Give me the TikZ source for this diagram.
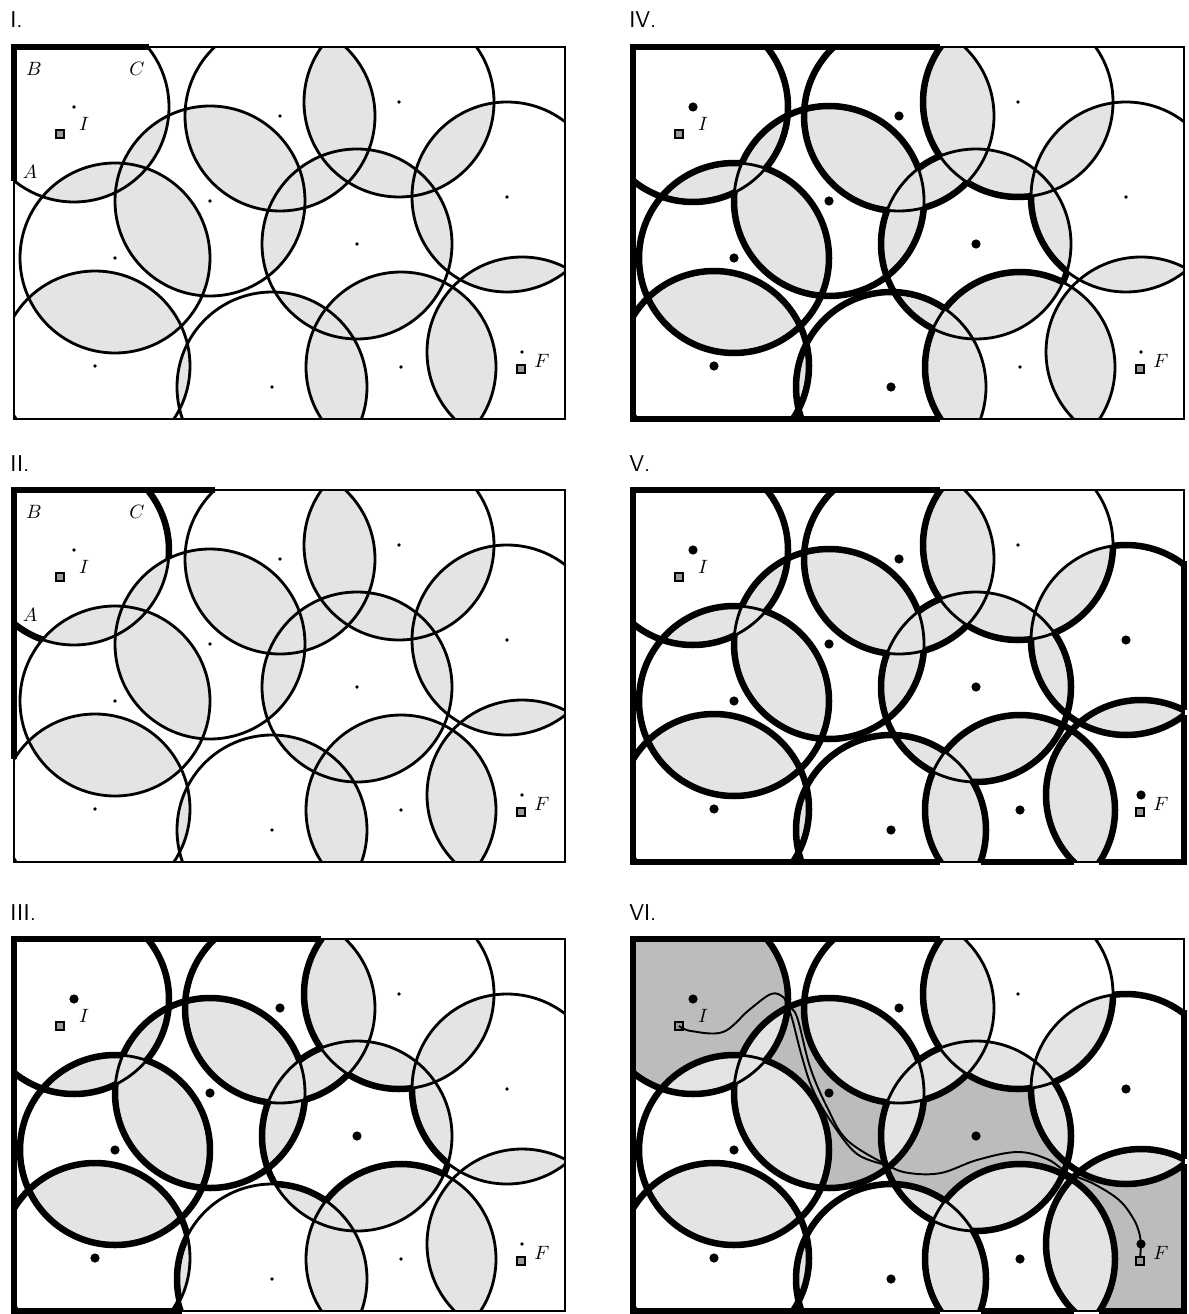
\documentclass[tikz,border=0pt]{standalone}
\usepackage{tikz}
\usetikzlibrary{calc}

\definecolor{LensGray}{HTML}{E4E4E4}
\definecolor{RouteGray}{HTML}{BCBCBC}
\definecolor{MarkGray}{HTML}{9A9A9A}

\tikzset{
  rim/.style={line width=1.6pt},
  traced/.style={line width=3.7pt},
  route/.style={line width=1.1pt},
  panelname/.style={font=\sffamily\fontsize{13}{15}\selectfont,anchor=base west,inner sep=0pt},
  ptlabel/.style={font=\fontsize{10.5}{12}\selectfont,inner sep=0pt},
  endmark/.style={draw=black,line width=0.7pt,fill=MarkGray,minimum size=4.6pt,inner sep=0pt},
}

\newcommand{\sensorrad}{95}

% sensor centres of one panel
\newcommand{\placesensors}{%
  \foreach \n/\x/\y in {1/74/107,2/280/116,3/399/102,4/210/201,5/507/197,
      6/115/258,7/357/244,8/95/366,9/272/387,10/401/367,11/522/352}
    \coordinate (s\n) at (\x,\y);}

% clip away the inside of one sensor disc
\newcommand{\clipout}[1]{%
  \clip (-60,-60) -- (660,-60) -- (660,500) -- (-60,500) -- cycle
    (#1) ++(\sensorrad,0) arc[start angle=0,end angle=-360,radius=\sensorrad] -- cycle;}

% double covered lenses and thin discs
\newcommand{\field}{%
  \foreach \i in {1,...,11}{
    \begin{scope}
      \clip (s\i) circle[radius=\sensorrad];
      \foreach \j in {1,...,11}{\ifnum\i=\j\relax\else\fill[LensGray] (s\j) circle[radius=\sensorrad];\fi}
    \end{scope}}
  \foreach \n in {1,...,11} \draw[rim] (s\n) circle[radius=\sensorrad];}

% thick boundary of the single covered cells of the listed sensors
\newcommand{\tracecells}[1]{%
  \foreach \i in {#1}{
    \foreach \j in {1,...,11}{
      \begin{scope}
        \ifnum\i=\j\relax\else\clip (s\i) circle[radius=\sensorrad];\fi
        \foreach \k in {1,...,11}{%
          \ifnum\k=\i\relax\else\ifnum\k=\j\relax\else\clipout{s\k}\fi\fi}
        \draw[traced] (s\j) circle[radius=\sensorrad];
      \end{scope}}}}

\newcommand{\sensordots}{%
  \foreach \n in {1,...,11} \fill (s\n) circle[radius=1.9];}

\begin{document}
\begin{tikzpicture}[x=0.2mm,y=-0.2mm]
  \useasboundingbox (0,0) rectangle (1188,1314);

  % I.
  \begin{scope}
    \placesensors
    \node[panelname] (t1) at (10,28) {I.};
    \begin{scope}
      \clip (14,47) rectangle (565,419);
      \field
    \end{scope}
    \draw[rim] (14,47) rectangle (565,419);
    \draw[traced] (149,47) -- (14,47) -- (14,181);
    \sensordots
    \node[endmark] (i1) at (60,134) {};
    \node[endmark] (f1) at (521,369) {};
    \node[ptlabel] (b1) at (34,69) {$B$};
    \node[ptlabel] (c1) at (137,69) {$C$};
    \node[ptlabel] (a1) at (30,172) {$A$};
    \node[ptlabel] (li1) at (84,124) {$I$};
    \node[ptlabel] (lf1) at (542,361) {$F$};
  \end{scope}

  % II.
  \begin{scope}[shift={(0,443)}]
    \placesensors
    \node[panelname] (t2) at (10,28) {II.};
    \begin{scope}
      \clip (14,47) rectangle (565,419);
      \field
      \draw[traced] (s1) ++(-38.7:95) arc[start angle=-38.7,end angle=5.1,radius=95];
      \draw[traced] (s1) ++(109.4:95) arc[start angle=109.4,end angle=129,radius=95];
    \end{scope}
    \draw[rim] (14,47) rectangle (565,419);
    \draw[traced] (215,47) -- (14,47) -- (14,316);
    \sensordots
    \node[endmark] (i2) at (60,134) {};
    \node[endmark] (f2) at (521,369) {};
    \node[ptlabel] (b2) at (34,69) {$B$};
    \node[ptlabel] (c2) at (137,69) {$C$};
    \node[ptlabel] (a2) at (30,172) {$A$};
    \node[ptlabel] (li2) at (84,124) {$I$};
    \node[ptlabel] (lf2) at (542,361) {$F$};
  \end{scope}

  % III.
  \begin{scope}[shift={(0,892)}]
    \placesensors
    \node[panelname] (t3) at (10,28) {III.};
    \begin{scope}
      \clip (14,47) rectangle (565,419);
      \field
      \tracecells{1,2,4,6,7,8}
    \end{scope}
    \draw[rim] (14,47) rectangle (565,419);
    \draw[traced] (321,47) -- (14,47) -- (14,419) -- (182,419);
    \sensordots
    \foreach \n in {1,2,4,6,7,8} \fill (s\n) circle[radius=4.6];
    \node[endmark] (i3) at (60,134) {};
    \node[endmark] (f3) at (521,369) {};
    \node[ptlabel] (li3) at (84,124) {$I$};
    \node[ptlabel] (lf3) at (542,361) {$F$};
  \end{scope}

  % IV.
  \begin{scope}[shift={(619,0)}]
    \placesensors
    \node[panelname] (t4) at (10,28) {IV.};
    \begin{scope}
      \clip (14,47) rectangle (565,419);
      \field
      \tracecells{1,2,4,6,7,8,9}
    \end{scope}
    \draw[rim] (14,47) rectangle (565,419);
    \draw[traced] (321,47) -- (14,47) -- (14,419) -- (321,419);
    \sensordots
    \foreach \n in {1,2,4,6,7,8,9} \fill (s\n) circle[radius=4.6];
    \node[endmark] (i4) at (60,134) {};
    \node[endmark] (f4) at (521,369) {};
    \node[ptlabel] (li4) at (84,124) {$I$};
    \node[ptlabel] (lf4) at (542,361) {$F$};
  \end{scope}

  % V.
  \begin{scope}[shift={(619,443)}]
    \placesensors
    \node[panelname] (t5) at (10,28) {V.};
    \begin{scope}
      \clip (14,47) rectangle (565,419);
      \field
      \tracecells{1,2,4,5,6,7,8,9,10,11}
    \end{scope}
    \draw[rim] (14,47) rectangle (565,419);
    \draw[traced] (321,47) -- (14,47) -- (14,419) -- (321,419);
    \draw[traced] (362,419) -- (455,419);
    \draw[traced] (480,419) -- (565,419) -- (565,272);
    \draw[traced] (565,267) -- (565,118);
    \sensordots
    \foreach \n in {1,2,4,5,6,7,8,9,10,11} \fill (s\n) circle[radius=4.6];
    \node[endmark] (i5) at (60,134) {};
    \node[endmark] (f5) at (521,369) {};
    \node[ptlabel] (li5) at (84,124) {$I$};
    \node[ptlabel] (lf5) at (542,361) {$F$};
  \end{scope}

  % VI.
  \begin{scope}[shift={(619,892)}]
    \placesensors
    \node[panelname] (t6) at (10,28) {VI.};
    \begin{scope}
      \clip (14,47) rectangle (565,419);
      \foreach \n in {1,4,7,11} \fill[RouteGray] (s\n) circle[radius=\sensorrad];
      \field
      \tracecells{1,2,4,5,6,7,8,9,10,11}
    \end{scope}
    \draw[rim] (14,47) rectangle (565,419);
    \draw[traced] (321,47) -- (14,47) -- (14,419) -- (321,419);
    \draw[traced] (362,419) -- (455,419);
    \draw[traced] (480,419) -- (565,419) -- (565,272);
    \draw[traced] (565,267) -- (565,118);
    \sensordots
    \foreach \n in {1,2,4,5,6,7,8,9,10,11} \fill (s\n) circle[radius=4.6];
    \node[endmark] (i6) at (60,134) {};
    \node[endmark] (f6) at (521,369) {};
    \coordinate (x14) at (169,114);
    \coordinate (x47) at (268,273);
    \draw[route] plot[smooth,tension=0.6] coordinates {(i6) (72,139) (104,140) (130,118)
      (152,102) (164,105) (x14) (178,125) (191,175) (208,215) (228,248) (x47)
      (290,281) (322,281) (358,268) (398,260) (428,267) (449,281) (475,292) (500,308)
      (514,326) (520,340) (s11)};
    \draw[route] plot[smooth,tension=0.6] coordinates {(x14) (174,130) (183,165) (194,198)
      (213,231) (238,262) (x47)};
    \draw[route] (s11) -- (f6);
    \node[ptlabel] (li6) at (84,124) {$I$};
    \node[ptlabel] (lf6) at (542,361) {$F$};
  \end{scope}
\end{tikzpicture}
\end{document}
